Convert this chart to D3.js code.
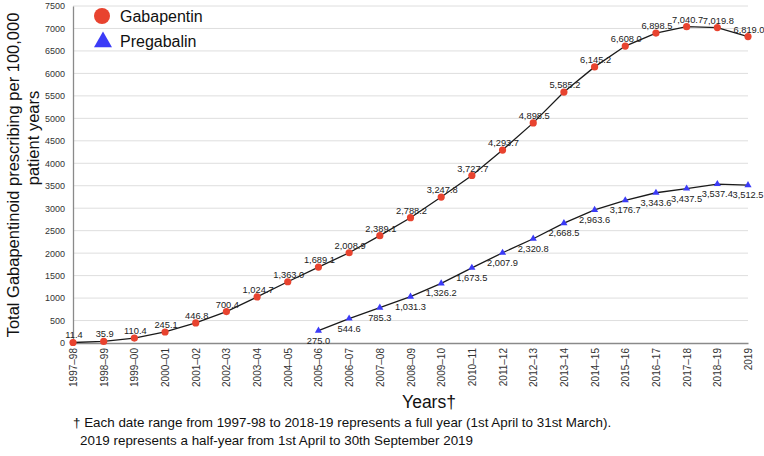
<!DOCTYPE html>
<html>
<head>
<meta charset="utf-8">
<script src="https://cdn.jsdelivr.net/npm/d3@7"></script>
<style>
  body { margin: 0; background: #fff; }
  text { font-family: "Liberation Sans", Arial, Helvetica, sans-serif; }
</style>
</head>
<body>
<svg id="chart" width="764" height="456"></svg>
<script>
var years = ["1997–98","1998–99","1999–00","2000–01","2001–02","2002–03","2003–04","2004–05",
  "2005–06","2006–07","2007–08","2008–09","2009–10","2010–11","2011–12","2012–13",
  "2013–14","2014–15","2015–16","2016–17","2017–18","2018–19","2019"];
var gabapentin = [11.4, 35.9, 110.4, 245.1, 446.8, 700.4, 1024.7, 1363.0, 1689.1, 2008.9,
  2389.1, 2788.2, 3247.8, 3727.7, 4293.7, 4898.5, 5585.2, 6145.2, 6608.0, 6898.5,
  7040.7, 7019.8, 6819.0];
var pregabalinYears = years.slice(8);
var pregabalin = [275.0, 544.6, 785.3, 1031.3, 1326.2, 1673.5, 2007.9, 2320.8, 2668.5,
  2963.6, 3176.7, 3343.6, 3437.5, 3537.4, 3512.5];
var yTicks = [0, 500, 1000, 1500, 2000, 2500, 3000, 3500, 4000, 4500, 5000, 5500, 6000, 6500, 7000, 7500];

var red = "#e8432f", blue = "#3b3bf7";
var chart = d3.select("#chart");

var x = d3.scalePoint().domain(years).range([73, 748]);
var y = d3.scaleLinear().domain([0, 7500]).range([343, 6]);
var fmt = d3.format(",.1f");

// grid
chart.append("g").selectAll("line").data(yTicks.slice(1)).join("line")
    .attr("x1", 73).attr("x2", 748)
    .attr("y1", d => y(d)).attr("y2", d => y(d))
    .style("stroke", "#dedede").style("stroke-width", 1);

// axes
var yAxis = chart.append("g").attr("transform", "translate(73,0)")
    .call(d3.axisLeft(y).tickValues(yTicks).tickFormat(d3.format("d")).tickSize(0).tickPadding(8));
yAxis.select(".domain").style("stroke", "#8a8a8a").style("stroke-width", 1.3);
yAxis.selectAll("text").style("font-size", "9px").style("fill", "#333")
    .style("font-family", "Liberation Sans, Arial, sans-serif");

var xAxis = chart.append("g").attr("transform", "translate(0,343)")
    .call(d3.axisBottom(x).tickSize(0).tickPadding(5));
xAxis.select(".domain").style("stroke", "#8a8a8a").style("stroke-width", 1.3);
xAxis.selectAll("text")
    .style("font-size", "10px").style("fill", "#333")
    .style("font-family", "Liberation Sans, Arial, sans-serif")
    .attr("text-anchor", "end")
    .attr("transform", "rotate(-90)")
    .attr("x", -5).attr("y", 0).attr("dy", "0.35em");

// lines
var line = d3.line().x(d => x(d.k)).y(d => y(d.v));
var gData = years.map((k, i) => ({k: k, v: gabapentin[i]}));
var pData = pregabalinYears.map((k, i) => ({k: k, v: pregabalin[i]}));

[gData, pData].forEach(function(d){
  chart.append("path").datum(d)
      .attr("d", line)
      .style("fill", "none")
      .style("stroke", "#1a1a1a")
      .style("stroke-width", 1.3);
});

// markers
chart.append("g").selectAll("circle").data(gData).join("circle")
    .attr("cx", d => x(d.k)).attr("cy", d => y(d.v)).attr("r", 3.6)
    .style("fill", red);

var tri = d3.symbol().type(d3.symbolTriangle).size(22);
chart.append("g").selectAll("path").data(pData).join("path")
    .attr("d", tri)
    .attr("transform", d => "translate(" + x(d.k) + "," + y(d.v) + ")")
    .style("fill", blue);

// value labels
chart.append("g").selectAll("text").data(gData).join("text")
    .attr("x", d => x(d.k) + 1).attr("y", d => y(d.v) - 4)
    .attr("text-anchor", "middle")
    .attr("font-size", 9.3).attr("fill", "#222")
    .text(d => fmt(d.v));

chart.append("g").selectAll("text").data(pData).join("text")
    .attr("x", d => x(d.k)).attr("y", d => y(d.v) + 13)
    .attr("text-anchor", "middle")
    .attr("font-size", 9.3).attr("fill", "#222")
    .text(d => fmt(d.v));

// legend
chart.append("circle").attr("cx", 102).attr("cy", 16).attr("r", 8).style("fill", red);
chart.append("path").attr("d", d3.symbol().type(d3.symbolTriangle).size(140))
    .attr("transform", "translate(103,42)").style("fill", blue);
chart.append("text").attr("x", 120).attr("y", 22).attr("font-size", 16).attr("fill", "#111").text("Gabapentin");
chart.append("text").attr("x", 120).attr("y", 47).attr("font-size", 16).attr("fill", "#111").text("Pregabalin");

// y title
chart.append("text")
    .attr("transform", "translate(19,175) rotate(-90)")
    .attr("text-anchor", "middle")
    .attr("font-size", 16.5).attr("fill", "#111")
    .text("Total Gabapentinoid prescribing per 100,000");
chart.append("text")
    .attr("transform", "translate(39,138) rotate(-90)")
    .attr("text-anchor", "middle")
    .attr("font-size", 16.5).attr("fill", "#111")
    .text("patient years");

// x title
chart.append("text").attr("x", 429).attr("y", 408).attr("text-anchor", "middle")
    .attr("font-size", 17.5).attr("fill", "#111").text("Years†");

// footnote
chart.append("text").attr("x", 73).attr("y", 427).attr("font-size", 13.4).attr("fill", "#111")
    .text("† Each date range from 1997-98 to 2018-19 represents a full year (1st April to 31st March).");
chart.append("text").attr("x", 80).attr("y", 445).attr("font-size", 13.4).attr("fill", "#111")
    .text("2019 represents a half-year from 1st April to 30th September 2019");
</script>
</body>
</html>
